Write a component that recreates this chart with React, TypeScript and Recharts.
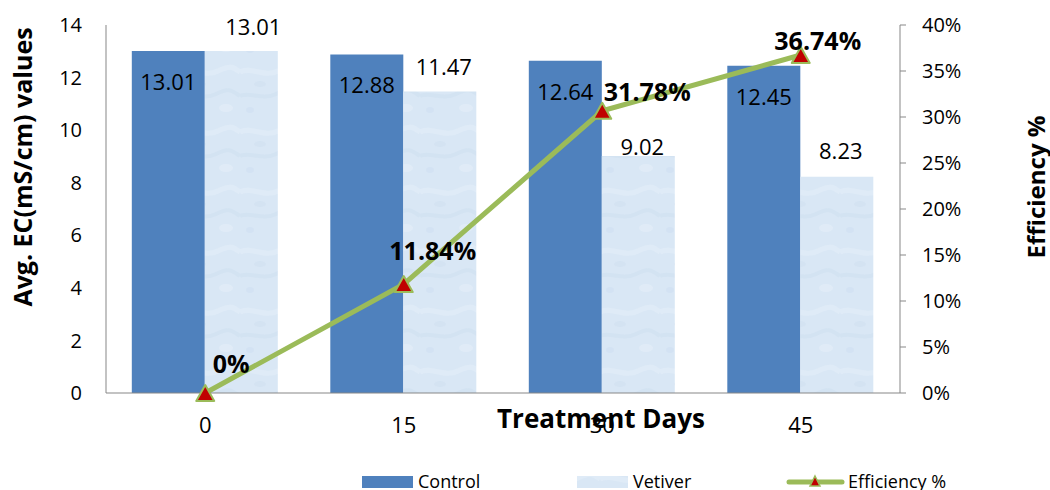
import React from "react";
import {
  ComposedChart,
  Bar,
  Line,
  XAxis,
  YAxis,
  LabelList,
  Legend,
} from "recharts";

const days = ["0", "15", "30", "45"];
const control = [13.01, 12.88, 12.64, 12.45];
const vetiver = [13.01, 11.47, 9.02, 8.23];
const efficiency = [0, 0.1184, 0.3067, 0.3674];
const efficiencyLabels = ["0%", "11.84%", "31.78%", "36.74%"];
const leftTicks = [0, 2, 4, 6, 8, 10, 12, 14];
const rightTicks = [0, 0.05, 0.1, 0.15, 0.2, 0.25, 0.3, 0.35, 0.4];

// label placement tweaks (style only)
const vetiverLabelLift = [24, 25, 9, 26];
const effLabelShift = [
  [26, -30],
  [29, -34],
  [45, -20],
  [17, -15],
];

const data = days.map((d, i) => ({
  day: d,
  control: control[i],
  vetiver: vetiver[i],
  efficiency: efficiency[i],
}));

const FONT = "'Open Sans', sans-serif";
const CONTROL = "#4f81bd";
const LINE = "#9bbb59";
const MARK = "#c00000";
const AXIS = "#878787";

const Triangle = (props: any) => {
  const { cx, cy, index } = props;
  if (cx == null || cy == null) return <g key={"t" + index} />;
  const w = 9, h = 8;
  return (
    <path
      key={"t" + index}
      d={`M${cx},${cy - h} L${cx + w},${cy + h} L${cx - w},${cy + h} Z`}
      fill={MARK}
      stroke={LINE}
      strokeWidth={2}
      strokeLinejoin="round"
    />
  );
};

const ControlLabel = (props: any) => {
  const { x, y, width, value } = props;
  return (
    <text
      x={x + width / 2}
      y={y + 30}
      textAnchor="middle"
      dominantBaseline="central"
      fontFamily={FONT}
      fontSize={22}
      fill="#000"
    >
      {Number(value).toFixed(2)}
    </text>
  );
};

const VetiverLabel = (props: any) => {
  const { x, y, width, value, index } = props;
  return (
    <text
      x={x + width / 2 + (index === 0 ? 12 : 4)}
      y={y - vetiverLabelLift[index] - 1}
      textAnchor="middle"
      dominantBaseline="central"
      fontFamily={FONT}
      fontSize={22}
      fill="#000"
    >
      {Number(value).toFixed(2)}
    </text>
  );
};

const EffLabel = (props: any) => {
  const { x, y, index } = props;
  const [dx, dy] = effLabelShift[index];
  return (
    <text
      x={x + dx}
      y={y + dy}
      textAnchor="middle"
      dominantBaseline="central"
      fontFamily={FONT}
      fontSize={25}
      fontWeight="bold"
      fill="#000"
    >
      {efficiencyLabels[index]}
    </text>
  );
};

const PatternDef = ({ id }: { id: string }) => (
  <pattern id={id} width="60" height="60" patternUnits="userSpaceOnUse">
    <rect width="60" height="60" fill="#d9e7f5" />
    <path d="M0,12 C12,6 24,18 38,11 S54,8 60,12" stroke="#e1ecf8" strokeWidth="5" fill="none" opacity="0.8" />
    <path d="M0,36 C10,31 22,41 36,34 S52,31 60,36" stroke="#d1e1f2" strokeWidth="4" fill="none" opacity="0.7" />
    <ellipse cx="20" cy="24" rx="6" ry="3" fill="#d2e2f2" opacity="0.7" />
    <ellipse cx="46" cy="48" rx="7" ry="4" fill="#e2ecf8" opacity="0.8" />
    <ellipse cx="10" cy="50" rx="4" ry="3" fill="#cfdff1" opacity="0.6" />
  </pattern>
);

const LegendContent = () => (
  <svg width={1050} height={30} style={{ display: "block" }}>
    <defs>
      <PatternDef id="vetiverPatLegend" />
    </defs>
    <rect x={362} y={9} width={51} height={12} fill={CONTROL} />
    <text x={418} y={21} fontFamily={FONT} fontSize={18} fill="#000">
      Control
    </text>
    <rect x={577} y={9} width={51} height={12} fill="url(#vetiverPatLegend)" />
    <text x={633} y={21} fontFamily={FONT} fontSize={18} fill="#000">
      Vetiver
    </text>
    <line x1={789} y1={15} x2={842} y2={15} stroke={LINE} strokeWidth={5} strokeLinecap="round" />
    <path d="M815,9 L820,19 L810,19 Z" fill={MARK} stroke={LINE} strokeWidth={1.5} />
    <text x={848} y={21} fontFamily={FONT} fontSize={18} fill="#000">
      Efficiency %
    </text>
  </svg>
);

export default function App() {
  return (
    <div style={{ position: "absolute", left: 0, top: 0, width: 1050, height: 490, background: "#fff", overflow: "hidden" }}>
      <ComposedChart
        width={1050}
        height={490}
        data={data}
        margin={{ top: 25, right: 0, bottom: 57, left: 0 }}
        barCategoryGap="13%"
        barGap={0}
      >
        <defs>
          <PatternDef id="vetiverPat" />
        </defs>
        <XAxis
          dataKey="day"
          height={40}
          stroke={AXIS}
          tickLine={false}
          tickSize={0}
          tickMargin={24}
          tick={{ fill: "#000", fontSize: 22, fontFamily: FONT }}
        />
        <YAxis
          yAxisId="left"
          orientation="left"
          width={106}
          domain={[0, 14]}
          ticks={leftTicks}
          interval={0}
          stroke={AXIS}
          tickLine={false}
          tickSize={0}
          tickMargin={24}
          tick={{ fill: "#000", fontSize: 20, fontFamily: FONT }}
        />
        <YAxis
          yAxisId="right"
          orientation="right"
          width={150}
          domain={[0, 0.4]}
          ticks={rightTicks}
          interval={0}
          stroke={AXIS}
          tickSize={6}
          tickMargin={16}
          tickFormatter={(v: number) => `${Math.round(v * 100)}%`}
          tick={{ fill: "#000", fontSize: 20, fontFamily: FONT, textAnchor: "start" }}
        />
        <Bar yAxisId="left" dataKey="control" name="Control" fill={CONTROL} isAnimationActive={false}>
          <LabelList dataKey="control" content={ControlLabel} />
        </Bar>
        <Bar yAxisId="left" dataKey="vetiver" name="Vetiver" fill="url(#vetiverPat)" isAnimationActive={false}>
          <LabelList dataKey="vetiver" content={VetiverLabel} />
        </Bar>
        <Line
          yAxisId="right"
          dataKey="efficiency"
          name="Efficiency %"
          stroke={LINE}
          strokeWidth={5}
          dot={Triangle}
          activeDot={false}
          isAnimationActive={false}
        >
          <LabelList dataKey="efficiency" content={EffLabel} />
        </Line>
        <Legend
          layout="vertical"
          align="center"
          verticalAlign="middle"
          content={LegendContent}
          wrapperStyle={{ position: "absolute", left: 0, top: 467, width: 1050, height: 30 }}
        />
        <text
          x={601}
          y={418}
          textAnchor="middle"
          dominantBaseline="central"
          fontFamily={FONT}
          fontSize={26}
          fontWeight="bold"
          fill="#000"
        >
          Treatment Days
        </text>
        <text
          x={22}
          y={167}
          transform="rotate(-90 22 167)"
          textAnchor="middle"
          dominantBaseline="central"
          fontFamily={FONT}
          fontSize={25}
          fontWeight="bold"
          fill="#000"
        >
          Avg. EC(mS/cm) values
        </text>
        <text
          x={1035}
          y={187}
          transform="rotate(-90 1035 187)"
          textAnchor="middle"
          dominantBaseline="central"
          fontFamily={FONT}
          fontSize={24}
          fontWeight="bold"
          fill="#000"
        >
          Efficiency %
        </text>
      </ComposedChart>
    </div>
  );
}
